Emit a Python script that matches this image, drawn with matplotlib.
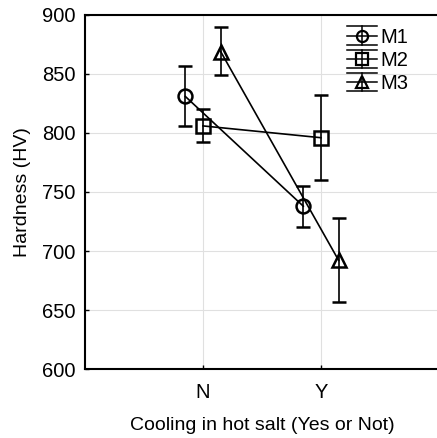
import matplotlib
matplotlib.use("Agg")
import matplotlib.pyplot as plt
from matplotlib.legend_handler import HandlerBase
from matplotlib.lines import Line2D
import numpy as np

plt.rcParams['font.family'] = ['Liberation Sans', 'DejaVu Sans']

categories = ["N", "Y"]
series = ["M1", "M2", "M3"]
means = {"M1": [831, 738], "M2": [806, 796], "M3": [869, 692]}
err_lo = {"M1": [25, 18], "M2": [14, 36], "M3": [20, 35]}
err_hi = {"M1": [26, 17], "M2": [14, 36], "M3": [21, 36]}
markers = {"M1": "o", "M2": "s", "M3": "^"}
offsets = {"M1": -0.15, "M2": 0.0, "M3": 0.15}


class ErrHandler(HandlerBase):
    def __init__(self, marker):
        super().__init__()
        self.marker = marker

    def create_artists(self, legend, orig_handle, xdescent, ydescent, width,
                       height, fontsize, trans):
        cy = height / 2 - ydescent
        h = 6.5
        arts = []
        for yy in (cy - h, cy, cy + h):
            arts.append(Line2D([-xdescent, width - xdescent], [yy, yy],
                               color='black', lw=1.1, transform=trans))
        cx = width / 2 - xdescent
        arts.append(Line2D([cx, cx], [cy - h, cy + h], color='black', lw=1.1,
                           transform=trans))
        arts.append(Line2D([cx], [cy], marker=self.marker, markersize=8,
                           markerfacecolor='none', markeredgecolor='black',
                           markeredgewidth=1.6, transform=trans))
        return arts


fig = plt.figure(figsize=(4.37, 4.38), dpi=100)
ax = fig.add_axes([0.1945, 0.1575, 0.81, 0.8083])

x = np.arange(1, len(categories) + 1)
handles = []
for s in series:
    h = ax.errorbar(x + offsets[s], means[s], yerr=[err_lo[s], err_hi[s]],
                    marker=markers[s], markersize=10, markerfacecolor='none',
                    markeredgecolor='black', markeredgewidth=1.8,
                    color='black', linewidth=1.2, elinewidth=1.2,
                    capsize=5, capthick=1.2, label=s)
    handles.append(h)

ax.set_xlim(0, 3)
ax.set_ylim(600, 900)
ax.set_xticks(x)
ax.set_xticklabels(categories)
ax.set_yticks(np.arange(600, 901, 50))
ax.grid(True, color='#e0e0e0', linewidth=0.8)
ax.set_axisbelow(True)
for sp in ['left', 'top', 'bottom']:
    ax.spines[sp].set_linewidth(1.5)
ax.spines['right'].set_visible(False)
ax.tick_params(axis='both', labelsize=14.5, length=3, direction='in', width=1)
ax.tick_params(axis='y', pad=7)
ax.tick_params(axis='x', pad=10)
ax.set_xlabel("Cooling in hot salt (Yes or Not)", fontsize=14, labelpad=11)
ax.set_ylabel("Hardness (HV)", fontsize=14, labelpad=8)

ax.legend(handles, series, loc='upper left', bbox_to_anchor=(0.695, 1.01),
          frameon=False, fontsize=14.5, handlelength=1.5, handletextpad=0.15,
          labelspacing=0.2, borderpad=0.3,
          handler_map={handles[i]: ErrHandler(markers[s]) for i, s in enumerate(series)})

fig.savefig("out.png", dpi=100)
